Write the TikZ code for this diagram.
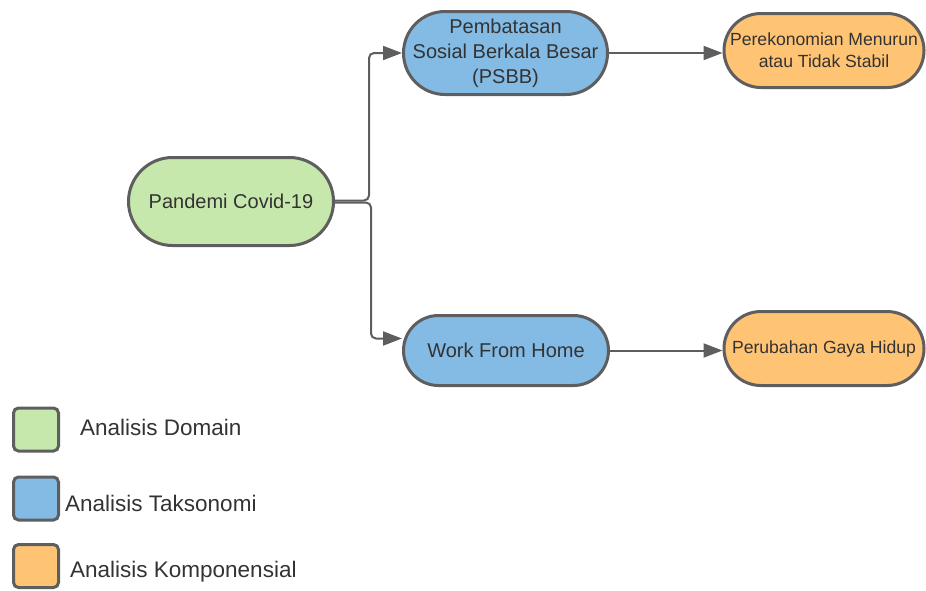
\documentclass[tikz,border=0pt]{standalone}
\usepackage{fontspec}
\setmainfont{Liberation Sans}
\usetikzlibrary{arrows.meta}
\definecolor{edgegray}{HTML}{5E5E5E}
\definecolor{txtgray}{HTML}{333333}
\definecolor{fgreen}{HTML}{C7E8AC}
\definecolor{fblue}{HTML}{83BBE5}
\definecolor{forange}{HTML}{FFC374}
\tikzset{
  pill/.style={draw=edgegray, line width=3pt, inner sep=0pt, align=center, text=txtgray},
  bignode/.style={pill, font=\fontsize{20}{25}\selectfont},
  smallnode/.style={pill, font=\fontsize{17.6}{22}\selectfont},
  conn/.style={draw=edgegray, line width=2pt, rounded corners=5pt, -{Triangle[length=19pt,width=14pt]}},
  legbox/.style={draw=edgegray, line width=3pt, rounded corners=5pt, minimum width=45pt, minimum height=43pt, inner sep=0pt},
  legtext/.style={anchor=west, text=txtgray, font=\fontsize{22.5}{27}\selectfont, inner sep=0pt}
}
\begin{document}
\begin{tikzpicture}[x=1pt,y=-1pt]
\useasboundingbox (0,0) rectangle (926,590);
\node[bignode, fill=fgreen, minimum width=205pt, minimum height=88pt, rounded corners=44pt] (pan) at (231,201.5) {Pandemi Covid-19};
\node[bignode, fill=fblue, minimum width=204pt, minimum height=83pt, rounded corners=41.5pt] (psbb) at (505.5,53) {Pembatasan\\Sosial Berkala Besar\\(PSBB)};
\node[smallnode, fill=forange, minimum width=200pt, minimum height=74pt, rounded corners=37pt] (eko) at (824,50.5) {Perekonomian Menurun\\atau Tidak Stabil};
\node[bignode, fill=fblue, minimum width=205pt, minimum height=70pt, rounded corners=35pt] (wfh) at (506,350.5) {Work From Home};
\node[smallnode, fill=forange, minimum width=200pt, minimum height=74pt, rounded corners=37pt] (gaya) at (824,348.5) {\raisebox{3pt}{Perubahan Gaya Hidup}};

\draw[conn] ([yshift=1pt]pan.east) -- ++(34,0) |- (psbb.west);
\draw[conn] ([yshift=-1pt]pan.east) -- ++(36,0) |- ([yshift=12pt]wfh.west);
\draw[conn] (psbb.east) -- (psbb.east -| eko.west);
\draw[conn] (wfh.east) -- (wfh.east -| gaya.west);

\node[legbox, fill=fgreen] (lg1) at (36,429.5) {};
\node[legbox, fill=fblue] (lg2) at (36,498.5) {};
\node[legbox, fill=forange] (lg3) at (36,566) {};
\node[legtext] (lt1) at (80,427) {Analisis Domain};
\node[legtext] (lt2) at (65,503) {Analisis Taksonomi};
\node[legtext] (lt3) at (70,572) {Analisis Komponensial};
\end{tikzpicture}
\end{document}
